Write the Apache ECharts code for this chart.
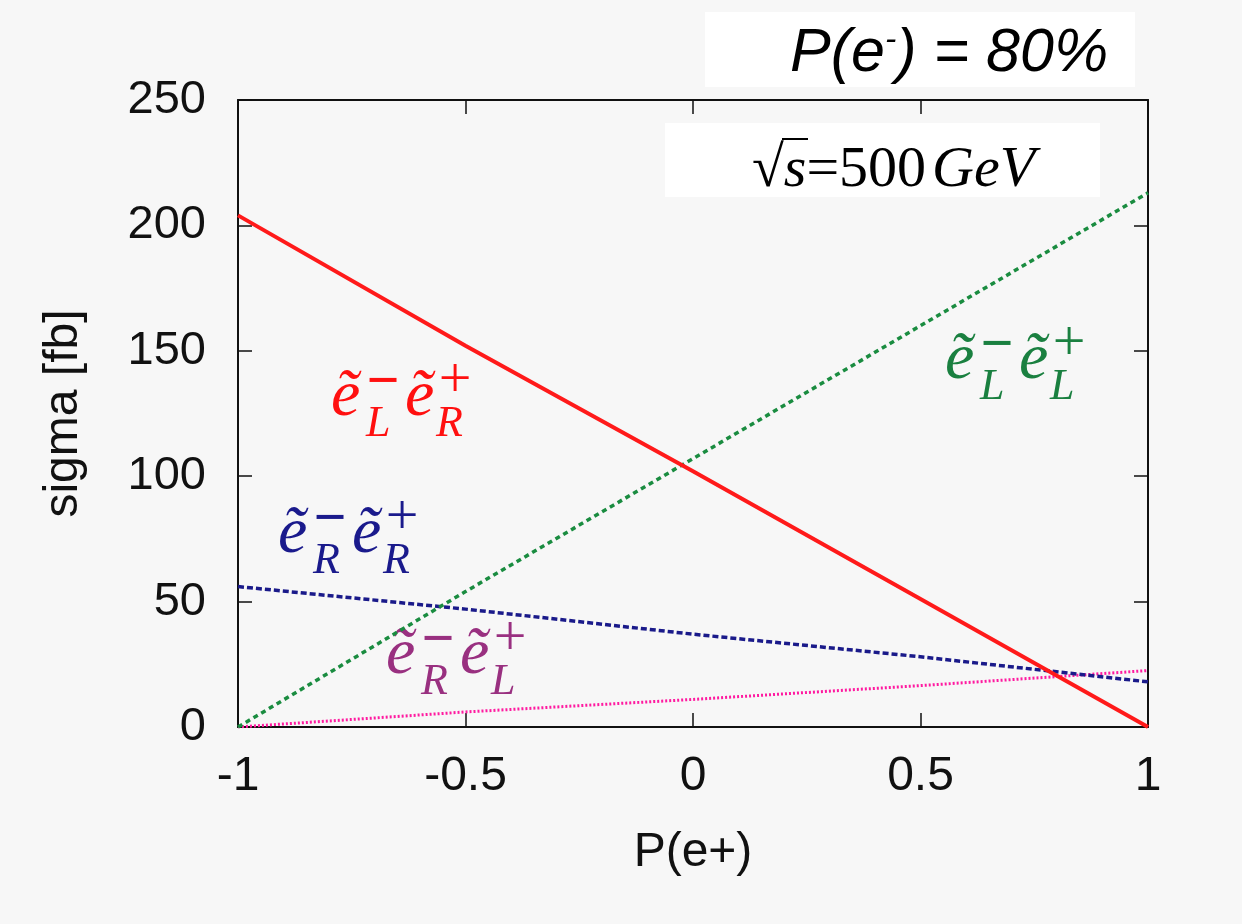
<!DOCTYPE html>
<html>
<head>
<meta charset="utf-8">
<script src="https://cdn.jsdelivr.net/npm/echarts@6/dist/echarts.min.js"></script>
<style>
  html, body { margin: 0; padding: 0; background: #f7f7f7; }
  #chart { width: 1242px; height: 924px; }
</style>
</head>
<body>
<div id="chart"></div>
<script>
/* Selectron pair cross sections vs positron polarisation, P(e-) = 80% */

const polPos = [-1, -0.5, 0, 0.5, 1];
const sigmaLR = [204, 152, 102, 51, 0];     // e_L- e_R+
const sigmaLL = [0, 54, 107, 160, 213];     // e_L- e_L+
const sigmaRR = [56, 47, 37, 28, 18];       // e_R- e_R+
const sigmaRL = [0, 6, 11, 16.5, 22.5];     // e_R- e_L+

const xTicks = { min: -1, max: 1, step: 0.5 };
const yTicks = { min: 0, max: 250, step: 50 };

const chart = echarts.init(document.getElementById('chart'), null, { renderer: 'canvas' });

const SANS = '"Liberation Sans", Arial, Helvetica, sans-serif';
const SERIF = '"Liberation Serif", "Times New Roman", serif';

function pairs(ys) {
  return polPos.map((x, i) => [x, ys[i]]);
}

// stacked-script label like e~_L^- e~_R^+ (x,y = left edge / baseline of first e)
function pairLabel(x, y, color, sub1, sup1, sub2, sup2) {
  const big = 66, scr = 44, op = 58;
  const t = (tx, ty, text, size, italic, align, weight) => ({
    type: 'text', x: x + tx, y: y + ty, silent: true,
    style: {
      text, fill: color,
      font: (italic ? 'italic ' : '') + (weight || 'normal') + ' ' + size + 'px ' + SERIF,
      align: align || 'left', verticalAlign: 'middle'
    }
  });
  return [
    t(-2, -22, 'ẽ', big, true),
    t(50, -36, sup1, op, false, 'center', 'bold'),
    t(33, 4, sub1, scr, true),
    t(72, -22, 'ẽ', big, true),
    t(122, -38, sup2, op, false, 'center'),
    t(103, 4, sub2, scr, true)
  ];
}

const graphics = [
  { type: 'rect', shape: { x: 705, y: 12, width: 430, height: 75 }, style: { fill: '#fff' }, z: 50 },
  {
    type: 'text', x: 790, y: 54, z: 51,
    style: {
      text: '{n|P(e}{s|-}{n|) = 80%}',
      verticalAlign: 'middle',
      rich: {
        n: { font: 'italic 61px ' + SANS, fill: '#000' },
        s: { font: 'italic 34px ' + SANS, fill: '#000', verticalAlign: 'top', padding: [0, 0, 22, 0] }
      }
    }
  },
  { type: 'rect', shape: { x: 665, y: 123, width: 435, height: 74 }, style: { fill: '#fff' }, z: 50 },
  {
    type: 'text', x: 752, y: 171, z: 51,
    style: {
      text: '{r|√}{i|s}{n|=500}{sp| }{i|GeV}',
      verticalAlign: 'middle',
      rich: {
        r: { font: '58px ' + SERIF, fill: '#000' },
        i: { font: 'italic 58px ' + SERIF, fill: '#000' },
        n: { font: '58px ' + SERIF, fill: '#000' },
        sp: { font: '24px ' + SERIF, fill: '#000' }
      }
    }
  },
  { type: 'rect', shape: { x: 782, y: 138, width: 26, height: 2 }, style: { fill: '#000' }, z: 51 }
].concat(
  pairLabel(333, 420, '#ff1010', 'L', '−', 'R', '+'),
  pairLabel(947, 383, '#1a8040', 'L', '−', 'L', '+'),
  pairLabel(280, 557, '#1a1a8c', 'R', '−', 'R', '+'),
  pairLabel(388, 678, '#993080', 'R', '−', 'L', '+')
);

const axisCommon = {
  axisLine: { show: true, onZero: false, lineStyle: { color: '#111', width: 2 } },
  axisTick: { show: true, inside: true, length: 14, lineStyle: { color: '#111', width: 1.5 } },
  splitLine: { show: false }
};

const option = {
  backgroundColor: '#f7f7f7',
  animation: false,
  grid: { left: 238, right: 94, top: 100, bottom: 197, show: false },
  xAxis: [
    Object.assign({
      type: 'value', min: xTicks.min, max: xTicks.max, interval: xTicks.step,
      position: 'bottom',
      name: 'P(e+)', nameLocation: 'middle', nameGap: 102,
      nameTextStyle: { fontFamily: SANS, fontSize: 48, color: '#111' },
      axisLabel: { fontFamily: SANS, fontSize: 48, color: '#111', margin: 26 }
    }, axisCommon),
    Object.assign({
      type: 'value', min: xTicks.min, max: xTicks.max, interval: xTicks.step,
      position: 'top', axisLabel: { show: false }
    }, axisCommon)
  ],
  yAxis: [
    Object.assign({
      type: 'value', min: yTicks.min, max: yTicks.max, interval: yTicks.step,
      position: 'left',
      name: 'sigma [fb]', nameLocation: 'middle', nameGap: 150, nameRotate: 90,
      nameTextStyle: { fontFamily: SANS, fontSize: 48, color: '#111' },
      axisLabel: { fontFamily: SANS, fontSize: 47, color: '#111', margin: 32 }
    }, axisCommon),
    Object.assign({
      type: 'value', min: yTicks.min, max: yTicks.max, interval: yTicks.step,
      position: 'right', axisLabel: { show: false }
    }, axisCommon)
  ],
  series: [
    {
      name: 'eR- eL+', type: 'line', data: pairs(sigmaRL), showSymbol: false, z: 2,
      lineStyle: { color: '#ff1aa0', width: 3, type: [2, 2] }
    },
    {
      name: 'eR- eR+', type: 'line', data: pairs(sigmaRR), showSymbol: false, z: 3,
      lineStyle: { color: '#1a1a8a', width: 3.5, type: [6, 3] }
    },
    {
      name: 'eL- eL+', type: 'line', data: pairs(sigmaLL), showSymbol: false, z: 4,
      lineStyle: { color: '#1a8c40', width: 3.5, type: [5, 4] }
    },
    {
      name: 'eL- eR+', type: 'line', data: pairs(sigmaLR), showSymbol: false, z: 5,
      lineStyle: { color: '#ff1a1a', width: 4, type: 'solid' }
    }
  ],
  graphic: graphics
};

chart.setOption(option);
</script>
</body>
</html>
